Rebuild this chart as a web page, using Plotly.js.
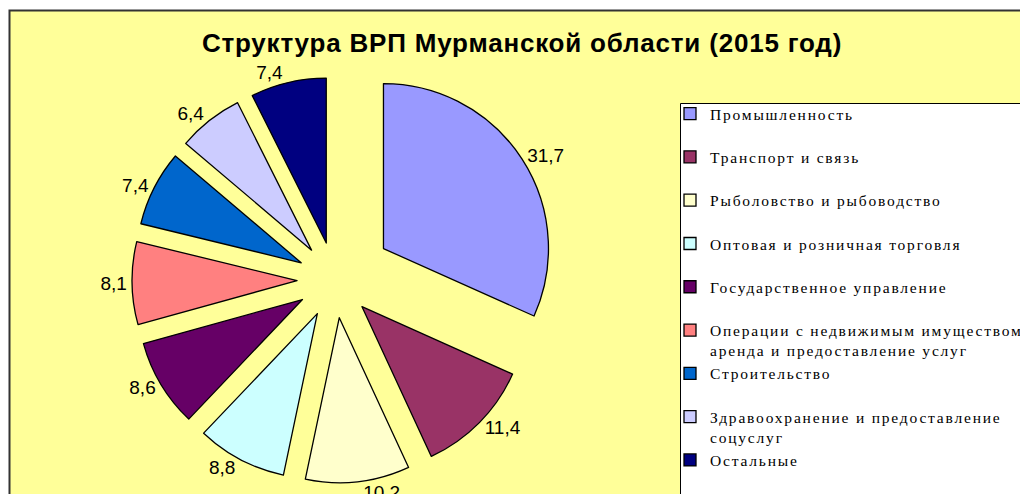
<!DOCTYPE html>
<html>
<head>
<meta charset="utf-8">
<script src="https://cdn.plot.ly/plotly-3.0.1.min.js"></script>
<style>
  html, body { margin: 0; padding: 0; background: #ffffff; overflow: hidden; width: 1020px; height: 494px; }
  #chart { position: absolute; left: 0; top: 0; }
  .legendtext { letter-spacing: 1.8px; }
  .gtitle { letter-spacing: 0.8px; }
</style>
</head>
<body>
<div id="chart"></div>
<script>
// ---- data ----
const categories = [
  'Промышленность',
  'Транспорт и связь',
  'Рыболовство и рыбоводство',
  'Оптовая и розничная торговля',
  'Государственное управление',
  'Операции с недвижимым имуществом<br>аренда и предоставление услуг',
  'Строительство',
  'Здравоохранение и предоставление<br>соцуслуг',
  'Остальные'
];
const shares = [31.7, 11.4, 10.2, 8.8, 8.6, 8.1, 7.4, 6.4, 7.4];
const chartTitle = 'Структура ВРП Мурманской области (2015 год)';

// ---- styles ----
const sliceColors = ['#9999FF', '#993366', '#FFFFCC', '#CCFFFF', '#660066',
                     '#FF8080', '#0066CC', '#CCCCFF', '#000080'];
const pulls = [0.35, 0.23, 0.23, 0.23, 0.23, 0.23, 0.23, 0.23, 0.23];

// figure is larger than the window; the window shows its top-left part
const W = 1150, H = 560;
const px = x => x / W;
const py = y => 1 - y / H;

// legend entries padded to two lines so every slot has the same height
const legendLabels = categories.map(c => c.indexOf('<br>') >= 0 ? c : c + '<br> ');
const labelTexts = shares.map(v => v.toFixed(1).replace('.', ','));

// pie geometry (pixels)
const cx = 335, cy = 280, R = 165, maxPull = Math.max.apply(null, pulls);
const half = R * (1 + maxPull);

const trace = {
  type: 'pie',
  labels: legendLabels,
  values: shares,
  text: labelTexts,
  textinfo: 'text',
  textposition: 'outside',
  outsidetextfont: { family: 'Liberation Sans, Arial, sans-serif', size: 19, color: '#000000' },
  sort: false,
  direction: 'clockwise',
  rotation: 0,
  pull: pulls,
  marker: { colors: sliceColors, line: { color: '#000000', width: 1.3 } },
  domain: { x: [px(cx - half), px(cx + half)], y: [py(cy + half), py(cy - half)] },
  hoverinfo: 'label+text'
};

const layout = {
  width: W,
  height: H,
  margin: { l: 0, r: 0, t: 0, b: 0, autoexpand: false },
  paper_bgcolor: '#ffffff',
  showlegend: true,
  title: {
    text: '<b>' + chartTitle + '</b>',
    font: { family: 'Liberation Sans, Arial, sans-serif', size: 26, color: '#000000' },
    x: px(522), xref: 'paper', xanchor: 'center',
    y: py(43), yref: 'paper', yanchor: 'middle'
  },
  legend: {
    x: px(670), xanchor: 'left',
    y: py(97), yanchor: 'top',
    bgcolor: 'rgba(0,0,0,0)',
    borderwidth: 0,
    valign: 'top',
    font: { family: 'Liberation Serif, Times New Roman, serif', size: 15.5, color: '#000000' },
    traceorder: 'normal'
  },
  shapes: [
    { type: 'rect', xref: 'paper', yref: 'paper', layer: 'below',
      x0: px(9.5), x1: 1.1, y0: -0.1, y1: py(10.5),
      fillcolor: '#FFFF99', line: { color: '#333333', width: 2 } },
    { type: 'rect', xref: 'paper', yref: 'paper', layer: 'below',
      x0: px(680.5), x1: 1.1, y0: -0.1, y1: py(103.5),
      fillcolor: '#FFFFFF', line: { color: '#000000', width: 1 } }
  ]
};

Plotly.newPlot('chart', [trace], layout, { displayModeBar: false, staticPlot: true });
</script>
</body>
</html>
